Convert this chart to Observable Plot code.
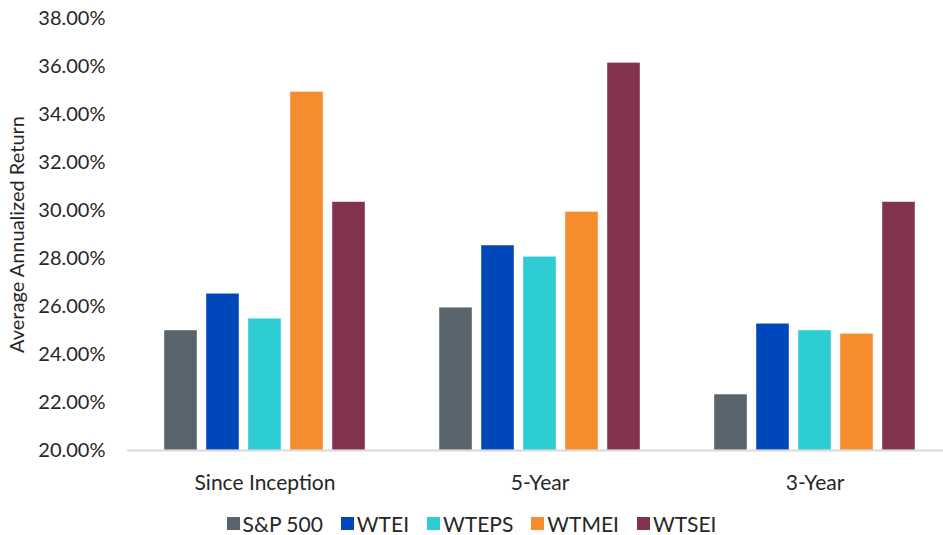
<!DOCTYPE html>
<html>
<head>
<meta charset="utf-8">
<script src="https://cdn.jsdelivr.net/npm/d3@7"></script>
<script src="https://cdn.jsdelivr.net/npm/@observablehq/plot@0.6"></script>
<style>
  html, body { margin: 0; padding: 0; background: #fff; overflow: hidden; }
  #chart svg { display: block; }
  #chart g[aria-label="fx-axis tick label"] text { font-size: 21px; }
  #legend { display: flex; justify-content: center; align-items: center; height: 23px; line-height: 23px;
    font-family: Lato, "Open Sans", sans-serif; font-size: 21px; color: #262626; gap: 18px; }
  #legend .item { display: flex; align-items: center; gap: 3px; }
  #legend .sw { width: 13px; height: 13px; display: inline-block; }
</style>
</head>
<body>
<div id="chart"></div>
<div id="legend"></div>
<script>
const periods = ["Since Inception", "5-Year", "3-Year"];
const series = ["S&P 500", "WTEI", "WTEPS", "WTMEI", "WTSEI"];
const sinceInception = [25.0, 26.53, 25.49, 34.94, 30.35];
const fiveYear = [25.95, 28.54, 28.07, 29.94, 36.15];
const threeYear = [22.33, 25.28, 25.0, 24.86, 30.35];
const colors = ["#5A646C", "#0047BB", "#2ECCD3", "#F58D2F", "#84334F"];
const yTicks = [20, 22, 24, 26, 28, 30, 32, 34, 36, 38];
const yLabel = "Average Annualized Return";

const valuesByPeriod = [sinceInception, fiveYear, threeYear];
const data = [];
periods.forEach((p, i) => series.forEach((s, j) => data.push({period: p, series: s, value: valuesByPeriod[i][j]})));

const chart = Plot.plot({
  width: 943,
  height: 512,
  marginTop: 18,
  marginBottom: 62,
  marginLeft: 127,
  marginRight: -9,
  style: {fontFamily: "Lato, 'Open Sans', sans-serif", fontSize: "20px", color: "#262626", background: "#fff"},
  fx: {domain: periods, padding: 0, label: null, tickSize: 0, tickPadding: 25, axis: "bottom"},
  x: {domain: series, paddingInner: 0.22, paddingOuter: 0.86, axis: null},
  y: {domain: [20, 38], ticks: yTicks, tickFormat: d => d.toFixed(2) + "%", tickSize: 0, tickPadding: 22,
      label: null, grid: false},
  color: {domain: series, range: colors},
  marks: [
    Plot.barY(data, {fx: "period", x: "series", y1: 20, y2: "value", fill: "series", stroke: "#ffffff", strokeOpacity: 0.5, strokeWidth: 0.8}),
    Plot.ruleY([20], {stroke: "#d9d9d9", strokeWidth: 2}),
    Plot.text([yLabel], {fx: () => periods[0], text: d => d, frameAnchor: "left", rotate: -90, dx: -110,
      textAnchor: "middle", lineAnchor: "middle", fontSize: 20, fill: "#262626"})
  ]
});
document.getElementById("chart").appendChild(chart);

const legend = document.getElementById("legend");
series.forEach((s, i) => {
  const item = document.createElement("span");
  item.className = "item";
  const sw = document.createElement("span");
  sw.className = "sw";
  sw.style.background = colors[i];
  const t = document.createElement("span");
  t.textContent = s;
  item.appendChild(sw);
  item.appendChild(t);
  legend.appendChild(item);
});
</script>
</body>
</html>
